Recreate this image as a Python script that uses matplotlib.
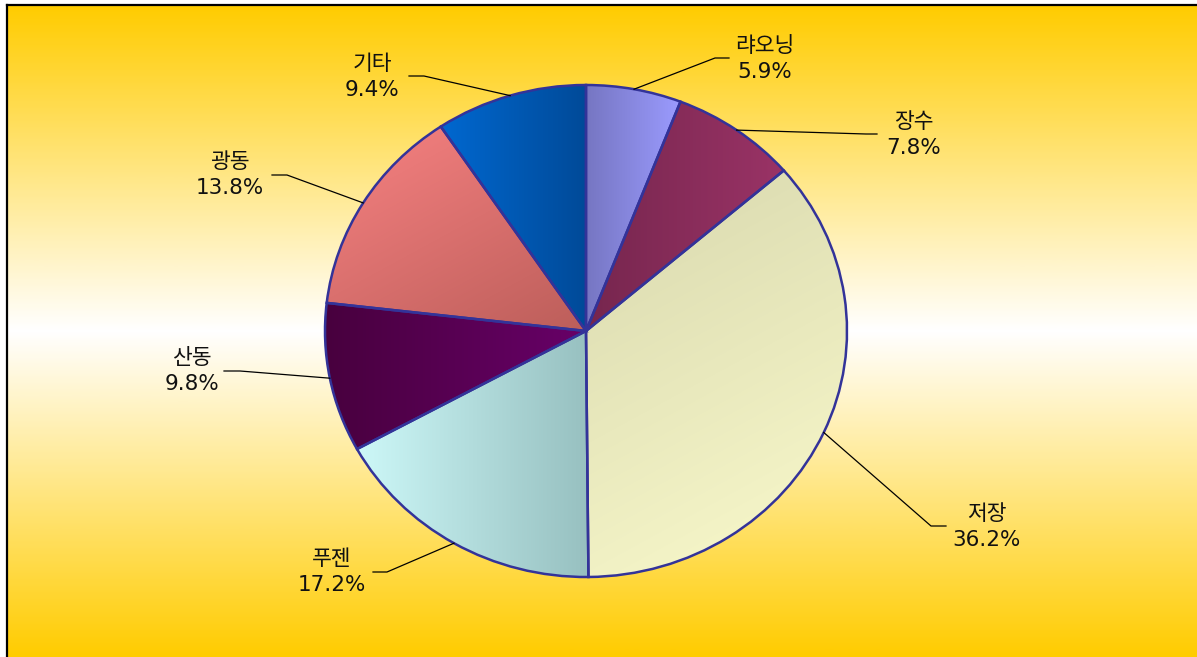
import numpy as np
import matplotlib
matplotlib.use('Agg')
import matplotlib.pyplot as plt
from matplotlib.colors import LinearSegmentedColormap, to_rgb

# ---- data ----
labels = ['랴오닝', '장수', '저장', '푸젠', '산동', '광동', '기타']
values = [5.9, 7.8, 36.2, 17.2, 9.8, 13.8, 9.4]
pct_labels = ['5.9%', '7.8%', '36.2%', '17.2%', '9.8%', '13.8%', '9.4%']

# ---- styles ----
grad_start = ['#7676C2', '#76264E', '#D8D8AE', '#CDF8F8', '#48003E', '#F88282', '#0068D0']
grad_end = ['#9B9BFF', '#9A3366', '#FAFACC', '#97C0C0', '#680068', '#BC5E5A', '#004A98']
grad_dir = [0, 0, -60, 0, 0, -60, 0]

# label layout in pixels: (text center, knee point, end point)
text_px = [(765, 59), (914, 135), (987, 527), (332, 572), (192, 371), (230, 175), (372, 77)]
knee_px = [(715, 58), (866, 134), (931, 526), (387, 572), (240, 371), (287, 175), (424, 76)]
end_px = [(729, 58), (877, 134), (946, 526), (373, 572), (224, 371), (272, 175), (409, 76)]

W, H = 1197, 657
CX, CY, RX, RY = 586, 331, 261, 246

fig = plt.figure(figsize=(W / 100, H / 100), dpi=100)
fig.patch.set_facecolor('white')

# background gradient panel
bg = fig.add_axes([7 / W, 0, 1 - 7 / W, (H - 5) / H])
grad = np.abs(np.linspace(-1, 1, 600))
cm = LinearSegmentedColormap.from_list('bg', ['#FFFFFF', '#FFCC00'])
bg.imshow(grad[:, None], aspect='auto', extent=[0, 1, 0, 1], cmap=cm, vmin=0, vmax=1)
bg.set_xlim(0, 1)
bg.set_ylim(0, 1)
bg.set_xticks([])
bg.set_yticks([])
for s in ['right', 'bottom']:
    bg.spines[s].set_visible(False)
for s in ['left', 'top']:
    bg.spines[s].set_linewidth(1.6)
    bg.spines[s].set_color('black')

# pie axes covering the whole figure, data units = pie radii
ax = fig.add_axes([0, 0, 1, 1])
ax.patch.set_alpha(0)
wedges, _ = ax.pie(values, startangle=90, counterclock=False, radius=1.0,
                   wedgeprops=dict(edgecolor='#333399', linewidth=1.8))
ax.set_aspect('auto')
ax.axis('off')


def px2d(p):
    return (p[0] - CX) / RX, (CY - p[1]) / RY


for i, w in enumerate(wedges):
    t1, t2 = np.radians(w.theta1), np.radians(w.theta2)
    ang = np.linspace(t1, t2, 100)
    xs = np.concatenate([[0], np.cos(ang)])
    ys = np.concatenate([[0], np.sin(ang)])
    x0, x1, y0, y1 = xs.min(), xs.max(), ys.min(), ys.max()
    gx, gy = np.meshgrid(np.linspace(x0, x1, 200), np.linspace(y1, y0, 200))
    d = np.radians(grad_dir[i])
    proj = gx * np.cos(d) + gy * np.sin(d)
    t = (proj - proj.min()) / (proj.max() - proj.min() + 1e-9)
    c0 = np.array(to_rgb(grad_start[i]))
    c1 = np.array(to_rgb(grad_end[i]))
    img = c0[None, None, :] * (1 - t[..., None]) + c1[None, None, :] * t[..., None]
    im = ax.imshow(img, extent=[x0, x1, y0, y1], aspect='auto', zorder=1, interpolation='bilinear')
    im.set_clip_path(w)
    w.set_facecolor('none')
    w.set_zorder(2)

    mid = np.radians((w.theta1 + w.theta2) / 2)
    ex, ey = np.cos(mid), np.sin(mid)
    kx, ky = px2d(knee_px[i])
    nx, ny = px2d(end_px[i])
    ax.plot([ex, kx, nx], [ey, ky, ny], color='black', lw=0.9, zorder=3, clip_on=False)
    tx, ty = px2d(text_px[i])
    ax.text(tx, ty, f'{labels[i]}\n{pct_labels[i]}', ha='center', va='center',
            multialignment='center', fontsize=15.5, linespacing=1.32, color='#111111',
            family=['DejaVu Sans', 'Noto Sans CJK KR'], zorder=4)

ax.set_xlim((0 - CX) / RX, (W - CX) / RX)
ax.set_ylim((CY - H) / RY, CY / RY)

fig.savefig('out.png', dpi=100, facecolor=fig.get_facecolor())
